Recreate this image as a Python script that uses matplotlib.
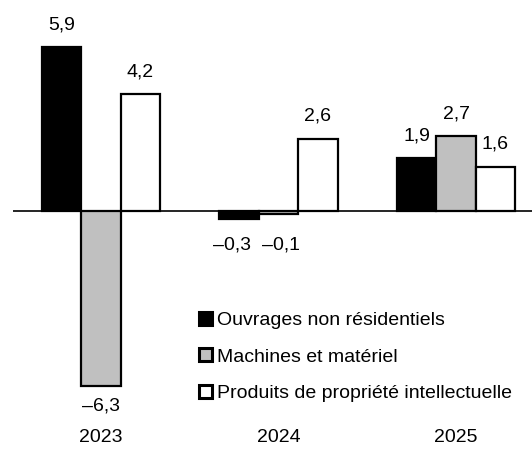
import matplotlib.pyplot as plt
import numpy as np

years = ["2023", "2024", "2025"]
series = ["Ouvrages non résidentiels", "Machines et matériel",
          "Produits de propriété intellectuelle"]
ouvrages = [5.9, -0.3, 1.9]
machines = [-6.3, -0.1, 2.7]
produits = [4.2, 2.6, 1.6]

colors = ["black", "#c0c0c0", "white"]
plt.rcParams['font.family'] = ['Liberation Sans', 'DejaVu Sans']
fs = 14

fig = plt.figure(figsize=(5.32, 4.68), dpi=100)
ax = fig.add_axes([13 / 532, 0, 1 - 13 / 532, 1])
ax.axis("off")

x = np.arange(len(years))
w = 0.222
for i, (vals, c) in enumerate(zip([ouvrages, machines, produits], colors)):
    pos = x + (i - 1) * w
    ax.bar(pos, vals, width=w, color=c, edgecolor="black", linewidth=1.6,
           label=series[i], zorder=2)
    for p, v in zip(pos, vals):
        txt = f"{abs(v):.1f}".replace(".", ",")
        if v < 0:
            txt = "\u2013" + txt
            # small negatives sit side by side, push them apart a bit
            dx = 0
            if abs(v) < 1:
                dx = -5 if i == 0 else 2
            ax.annotate(txt, (p, min(v, -0.5)), xytext=(dx, -8), textcoords="offset points",
                        ha="center", va="top", fontsize=fs)
        else:
            ax.annotate(txt, (p, v), xytext=(0, 10), textcoords="offset points",
                        ha="center", va="bottom", fontsize=fs)

ax.axhline(0, color="black", linewidth=1.2, zorder=3)
ax.set_xlim(-0.496, 2.428)
ax.set_ylim(-9.24, 7.59)

for xi, y in zip(x, years):
    ax.text(xi, -8.13, y, ha="center", va="center", fontsize=fs)

leg = ax.legend(loc="upper left", bbox_to_anchor=(0.34, 0.355), frameon=False,
                fontsize=fs, handlelength=0.65, handleheight=0.65,
                handletextpad=0.25, labelspacing=1.0, borderpad=0)
for h in leg.legend_handles:
    h.set_linewidth(2.2)

fig.savefig("out.png", dpi=100)
